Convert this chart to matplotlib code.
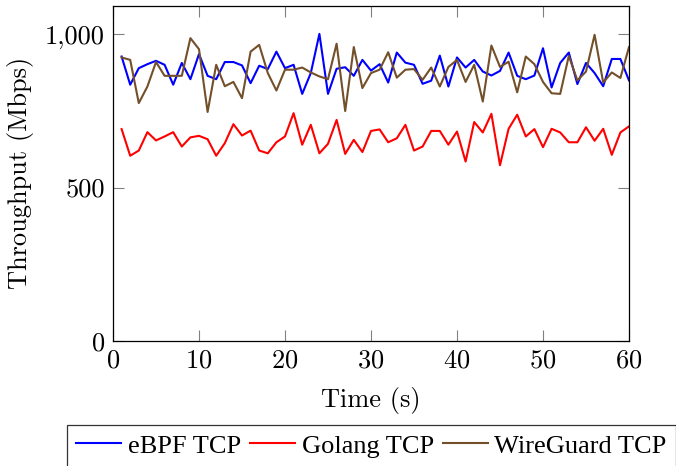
import matplotlib
matplotlib.use("Agg")
import matplotlib.pyplot as plt
from matplotlib.font_manager import FontProperties
import numpy as np

# throughput per second
time_s = list(range(1, 61))
ebpf_tcp = [928, 836, 890, 903, 914, 901, 836, 907, 854, 936,
            865, 854, 910, 910, 899, 841, 898, 887, 944, 890,
            901, 806, 874, 1002, 806, 888, 893, 865, 917, 882,
            903, 843, 941, 908, 901, 839, 849, 931, 830, 925,
            892, 917, 879, 866, 881, 941, 865, 854, 866, 955,
            827, 907, 941, 838, 907, 874, 831, 920, 920, 850]
golang_tcp = [691, 604, 621, 681, 654, 667, 681, 634, 664, 669,
              658, 604, 645, 707, 670, 686, 621, 612, 648, 667,
              743, 640, 705, 612, 643, 721, 610, 656, 616, 685,
              690, 648, 661, 705, 621, 634, 685, 685, 640, 683,
              585, 714, 680, 741, 573, 692, 738, 667, 691, 632,
              692, 680, 648, 648, 697, 653, 692, 607, 680, 700]
wireguard_tcp = [925, 917, 776, 830, 910, 865, 865, 865, 988, 952,
                 747, 901, 831, 845, 792, 944, 966, 874, 817, 885,
                 885, 892, 876, 863, 854, 970, 750, 959, 825, 874,
                 885, 942, 859, 885, 887, 852, 892, 830, 894, 917,
                 845, 901, 781, 964, 894, 911, 811, 928, 903, 845,
                 808, 806, 930, 850, 879, 999, 843, 876, 858, 959]

series = [
    ("eBPF TCP", ebpf_tcp, "#0000ff"),
    ("Golang TCP", golang_tcp, "#ff0000"),
    ("WireGuard TCP", wireguard_tcp, "#734f2a"),
]

plt.rcParams["font.family"] = "serif"
plt.rcParams["font.serif"] = ["cmr10", "DejaVu Serif"]
plt.rcParams["mathtext.fontset"] = "cm"
plt.rcParams["axes.formatter.use_mathtext"] = True
plt.rcParams["font.size"] = 19

fig = plt.figure(figsize=(6.76, 4.66), dpi=100)
ax = fig.add_axes([113 / 676, 1 - 340.7 / 466, (629 - 113) / 676, (340.7 - 6) / 466])

for label, values, color in series:
    ax.plot(time_s, values, color=color, linewidth=1.5, label=label)

ax.set_xlim(0, 60)
ax.set_ylim(0, 1093)
ax.set_xticks(np.arange(0, 61, 10))
ax.set_yticks([0, 500, 1000])
ax.set_yticklabels(["0", "500", "1,000"])
ax.tick_params(direction="in", length=8, width=0.8, color="#808080",
               top=True, right=True, pad=6)
for sp in ax.spines.values():
    sp.set_linewidth(0.9)

ax.set_xlabel("Time (s)", labelpad=10)
ax.set_ylabel("Throughput (Mbps)", labelpad=8)

legend_font = FontProperties(family="Liberation Serif", size=19)
leg = fig.legend(loc="upper center", bbox_to_anchor=(371.5 / 676, 1 - 425 / 466),
                 bbox_transform=fig.transFigure, ncol=3, frameon=True,
                 fancybox=False, edgecolor="black", prop=legend_font,
                 handlelength=1.7, handletextpad=0.25, columnspacing=0.35,
                 borderpad=0.35, borderaxespad=0)
leg.get_frame().set_linewidth(0.9)

fig.savefig("out.png", dpi=100)
